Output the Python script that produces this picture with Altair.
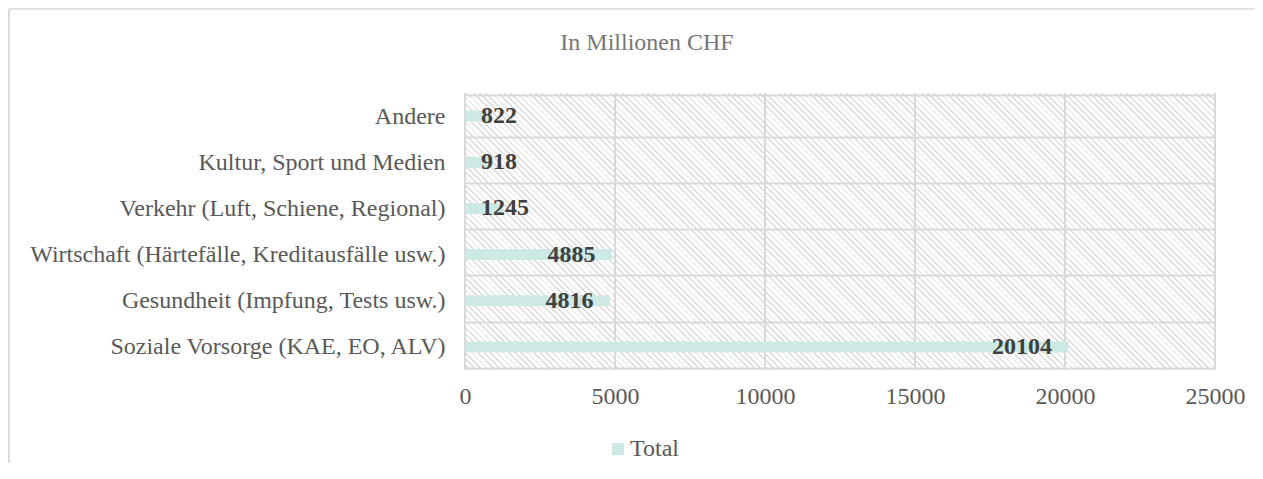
import altair as alt
import pandas as pd

# ---- data ----
categories = [
    "Soziale Vorsorge (KAE, EO, ALV)",
    "Gesundheit (Impfung, Tests usw.)",
    "Wirtschaft (Härtefälle, Kreditausfälle usw.)",
    "Verkehr (Luft, Schiene, Regional)",
    "Kultur, Sport und Medien",
    "Andere",
]
values = [20104, 4816, 4885, 1245, 918, 822]
series_name = ["Total"]
x_ticks = [0, 5000, 10000, 15000, 20000, 25000]
title_text = ["In Millionen CHF"]

FONT = "Liberation Serif"
LABEL_COLOR = "#595959"
GRID_COLOR = "#d9d9d9"
BAR_COLOR = "#cde9e5"

df = pd.DataFrame({"Kategorie": categories, "Wert": values, "Serie": series_name * len(categories)})
ticks_df = pd.DataFrame({"tick": x_ticks})
one = pd.DataFrame({"a": [0]})
title_df = pd.DataFrame({"t": title_text})

order = list(reversed(categories))

W, H = 750, 277

# diagonal hatch gradient (styling only)
diag = (2 ** 0.5) * W
period = 4.4 / diag
line = 1.2 / diag
stops = []
o = 0.0
while o < 1.0:
    stops.append({"offset": round(o, 6), "color": "#ffffff"})
    stops.append({"offset": round(min(o + period - line, 1.0), 6), "color": "#ffffff"})
    stops.append({"offset": round(min(o + period - line, 1.0), 6), "color": "#dcdcdc"})
    stops.append({"offset": round(min(o + period, 1.0), 6), "color": "#dcdcdc"})
    o += period
hatch_fill = {"gradient": "linear", "x1": 0, "y1": 1, "x2": 1, "y2": 0, "stops": stops}

x_axis = alt.Axis(values=x_ticks, grid=False, domain=False, ticks=False, labelPadding=14,
                  labelFontSize=24, labelFont=FONT, labelColor=LABEL_COLOR, format="d",
                  labelFlush=False, title=None, zindex=1)
y_axis = alt.Axis(grid=True, tickBand="extent", gridColor=GRID_COLOR, gridWidth=2,
                  domain=False, ticks=False, labelPadding=20, labelFontSize=24, labelFont=FONT,
                  labelColor=LABEL_COLOR, labelLimit=0, title=None, zindex=1)

xscale = alt.Scale(domain=[0, 25000], nice=False, zero=True)
x_enc = alt.X("Wert:Q", scale=xscale, axis=x_axis)
y_enc = alt.Y("Kategorie:N", sort=order, axis=y_axis)

hatch = alt.Chart(one).mark_rect(clip=True, fill=hatch_fill).encode(
    x=alt.value(0), x2=alt.value(W), y=alt.value(H / 2 - W / 2), y2=alt.value(H / 2 + W / 2)
)

xgrid = alt.Chart(ticks_df).mark_rule(color=GRID_COLOR, strokeWidth=2).encode(
    x=alt.X("tick:Q", scale=xscale, axis=x_axis)
)

bars = alt.Chart(df).mark_bar(size=11).encode(
    x=x_enc,
    y=y_enc,
    color=alt.Color(
        "Serie:N",
        scale=alt.Scale(range=[BAR_COLOR]),
        legend=alt.Legend(orient="none", legendX=141, legendY=344, title=None,
                          symbolType="square", symbolSize=144, symbolStrokeWidth=0,
                          labelFontSize=24, labelFont=FONT, labelColor=LABEL_COLOR,
                          labelOffset=0, padding=0),
    ),
)

text_big = alt.Chart(df).transform_filter("datum.Wert >= 3000").mark_text(
    align="right", baseline="middle", dx=-16, font=FONT, fontSize=24, fontWeight="bold", color="#404040"
).encode(x=x_enc, y=y_enc, text=alt.Text("Wert:Q", format="d"))

text_small = alt.Chart(df).transform_filter("datum.Wert < 3000").mark_text(
    align="left", baseline="middle", dx=16, font=FONT, fontSize=24, fontWeight="bold", color="#404040"
).encode(x=alt.datum(0), y=y_enc, text=alt.Text("Wert:Q", format="d"))

title = alt.Chart(title_df).mark_text(
    align="center", baseline="alphabetic", font=FONT, fontSize=24, color="#767676"
).encode(x=alt.value(182), y=alt.value(-43), text="t:N")

border_top = alt.Chart(one).mark_rule(color=GRID_COLOR, strokeWidth=1.5).encode(
    x=alt.value(-456), x2=alt.value(790), y=alt.value(-84)
)
border_left = alt.Chart(one).mark_rule(color=GRID_COLOR, strokeWidth=2).encode(
    x=alt.value(-456), y=alt.value(-84), y2=alt.value(370)
)

chart = alt.layer(hatch, xgrid, bars, text_big, text_small, title, border_top, border_left).properties(
    width=W,
    height=H,
    autosize=alt.AutoSizeParams(type="none"),
    padding={"left": 457, "top": 85, "right": 40, "bottom": 93},
).configure_view(stroke=None)

chart.save("out.html", embed_options={"renderer": "svg", "actions": False})
